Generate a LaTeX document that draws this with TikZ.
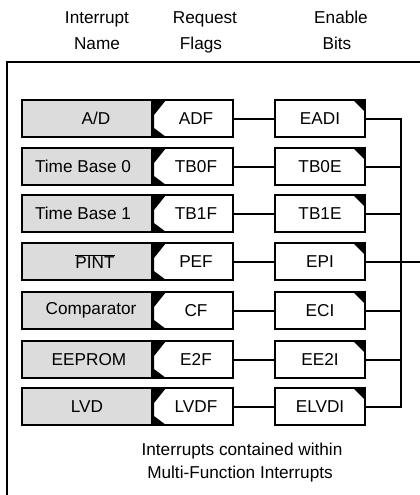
\documentclass[tikz,border=0pt]{standalone}
\usepackage{fontspec}
\setmainfont{Liberation Sans}
\usetikzlibrary{calc}
\definecolor{namegray}{RGB}{220,220,220}
\begin{document}
\begin{tikzpicture}[x=1pt,y=-1pt,
  font=\fontsize{17.2}{20}\selectfont,
  namebox/.style={draw, line width=2.4pt, fill=namegray, minimum width=130pt, minimum height=37pt, inner sep=0pt},
  flagbox/.style={draw, line width=2.4pt, fill=white, minimum width=81pt, minimum height=37pt, inner sep=0pt,
    path picture={\fill[black] (path picture bounding box.north west) -- ++(14,0) -- ++(-12,15)
      -- ($(path picture bounding box.south west)+(2,-9)$)
      -- ($(path picture bounding box.south west)+(14,0)$)
      -- (path picture bounding box.south west) -- cycle;}},
  enablebox/.style={draw, line width=2.4pt, fill=white, minimum width=90pt, minimum height=37pt, inner sep=0pt,
    path picture={\fill[black] (path picture bounding box.north east) -- ++(-12,0) -- ++(12,12) -- cycle;}},
  wire/.style={draw, line width=2pt, line join=miter},
  headtxt/.style={anchor=base, inner sep=0pt}]
\useasboundingbox (0,0) rectangle (420,495);

% frame
\coordinate (fbl) at (7,496);
\coordinate (ftl) at (7,62);
\coordinate (ftr) at (421,62);
\draw[line width=1.4pt, line join=miter] (fbl) -- (ftl) -- (ftr);

% headers
\node[headtxt] (h1a) at (97,23.5) {Interrupt};
\node[headtxt] (h1b) at (97,50) {Name};
\node[headtxt] (h2a) at (205,23.5) {Request};
\node[headtxt] (h2b) at (201,50) {Flags};
\node[headtxt] (h3a) at (341,23.5) {Enable};
\node[headtxt] (h3b) at (337,50) {Bits};

% rows
\node[namebox] (n1) at (87,118.5) {\hspace*{18pt}A/D};
\node[namebox] (n2) at (87,166.5) {Time Base 0\hspace*{8pt}};
\node[namebox] (n3) at (87,213.5) {Time Base 1\hspace*{8pt}};
\node[namebox] (n4) at (87,261.5) {\hspace*{16pt}$\overline{\mbox{PINT}}$};
\node[namebox] (n5) at (87,310.5) {\hspace*{8pt}Comparator};
\node[namebox] (n6) at (87,359.5) {\hspace*{4pt}EEPROM};
\node[namebox] (n7) at (87,406.5) {LVD};

\node[flagbox] (f1) at (192.5,118.5) {\hspace*{7pt}ADF};
\node[flagbox] (f2) at (192.5,166.5) {\hspace*{7pt}TB0F};
\node[flagbox] (f3) at (192.5,213.5) {\hspace*{7pt}TB1F};
\node[flagbox] (f4) at (192.5,261.5) {\hspace*{7pt}PEF};
\node[flagbox] (f5) at (192.5,310.5) {\hspace*{7pt}CF};
\node[flagbox] (f6) at (192.5,359.5) {\hspace*{7pt}E2F};
\node[flagbox] (f7) at (192.5,406.5) {\hspace*{7pt}LVDF};

\node[enablebox] (e1) at (320,118.5) {EADI};
\node[enablebox] (e2) at (320,166.5) {TB0E};
\node[enablebox] (e3) at (320,213.5) {TB1E};
\node[enablebox] (e4) at (320,261.5) {EPI};
\node[enablebox] (e5) at (320,310.5) {ECI};
\node[enablebox] (e6) at (320,359.5) {EE2I};
\node[enablebox] (e7) at (320,406.5) {ELVDI};

% connectors flag -> enable
\foreach \i in {1,...,7}{
  \path[wire] (f\i.east) -- (e\i.west);
}

% bus
\coordinate (bt) at (401,118.5);
\coordinate (bb) at (401,406.5);
\path[wire] (e1.east) -- (bt) -- (bb) -- (e7.east);
\foreach \i in {2,...,6}{
  \path[wire] (e\i.east) -- (e\i.east -| bt);
}
\coordinate (out) at (421,261.5);
\path[wire] (e4.east -| bt) -- (out);

% bottom caption
\node[headtxt] (c1) at (242,455) {Interrupts contained within};
\node[headtxt] (c2) at (240,478) {Multi-Function Interrupts};
\end{tikzpicture}
\end{document}
